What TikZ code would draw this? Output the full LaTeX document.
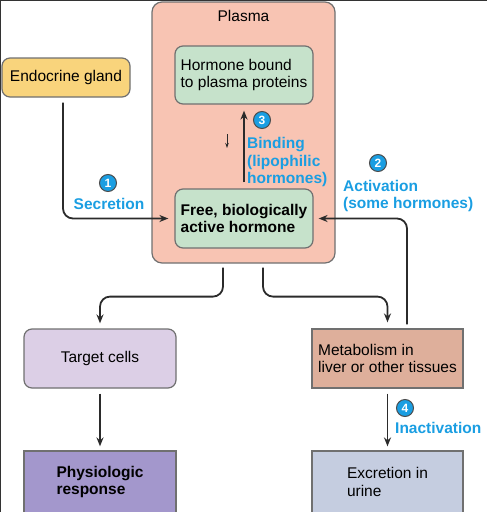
\documentclass[tikz,border=0pt]{standalone}
\usepackage{fontspec}
\setmainfont{Liberation Sans}
\usetikzlibrary{arrows.meta}

\definecolor{plasmacol}{HTML}{F8C4B3}
\definecolor{verde}{HTML}{C6E2CB}
\definecolor{amarillo}{HTML}{F9D47C}
\definecolor{lila}{HTML}{DCCFE6}
\definecolor{marron}{HTML}{DEAF9B}
\definecolor{morado}{HTML}{A397CC}
\definecolor{grisazul}{HTML}{C5CDE0}
\definecolor{azul}{HTML}{1A9EE2}
\definecolor{borde}{HTML}{707070}
\definecolor{linea}{HTML}{2B2B2B}

\begin{document}
\begin{tikzpicture}[x=1pt, y=-1pt,
    texto/.style={font=\fontsize{15.5}{17.5}\selectfont},
    caja/.style={texto, draw=borde, line width=1.2pt, inner sep=0pt, align=left},
    redonda/.style={caja, rounded corners=8pt},
    flecha/.style={draw=linea, line width=1.8pt, -{Stealth[length=9pt, width=7pt]}},
    paso/.style={circle, draw=black!70, fill=azul, text=white, line width=1pt, inner sep=0pt,
      minimum size=17pt, font=\fontsize{12}{12}\selectfont\bfseries},
    etiqueta/.style={text=azul, align=left, inner sep=0pt, font=\fontsize{15.5}{17.5}\selectfont\bfseries}]

    \useasboundingbox (0,0) rectangle (487,512);

    % Marco
    \draw[line width=1.5pt, black!80] (0.5,512) -- (0.5,0.5) -- (487,0.5);

    % Plasma
    \node[redonda, fill=plasmacol, minimum width=183pt, minimum height=261pt, rounded corners=10pt] (plasma) at (243.5,132.5) {};
    \node[texto, inner sep=0pt] (plasmatit) at (243.5,16) {Plasma};

    % Cajas
    \node[redonda, fill=verde, minimum width=138pt, minimum height=58pt] (ligada) at (244,75) {Hormone bound\\to plasma proteins};
    \node[redonda, fill=verde, minimum width=138pt, minimum height=59pt, font=\fontsize{15.5}{17.5}\selectfont\bfseries] (libre) at (244,218.5) {Free, biologically\\active hormone};
    \node[redonda, fill=amarillo, minimum width=128pt, minimum height=39pt] (glandula) at (66,77.5) {Endocrine gland};
    \node[redonda, fill=lila, minimum width=152pt, minimum height=59pt] (diana) at (100,358.5) {Target cells};
    \node[caja, fill=marron, minimum width=151pt, minimum height=59pt] (metab) at (387.5,358.5) {Metabolism in\\liver or other tissues};
    \node[caja, fill=morado, minimum width=152pt, minimum height=62pt, font=\fontsize{15.5}{17.5}\selectfont\bfseries] (respuesta) at (100,482) {Physiologic\\response};
    \node[caja, fill=grisazul, minimum width=151pt, minimum height=62pt] (excrecion) at (387.5,482) {Excretion in\\urine};

    % Pasos
    \node[paso] (p1) at (108,183) {1};
    \node[etiqueta] (secrecion) at (109,204) {Secretion};
    \node[paso] (p2) at (378,163) {2};
    \node[etiqueta, anchor=west] (activacion) at (343,196) {Activation\\(some hormones)};
    \node[paso] (p3) at (262,120) {3};
    \node[etiqueta, anchor=west] (union) at (247,162) {Binding\\(lipophilic\\hormones)};
    \node[paso] (p4) at (405,408) {4};
    \node[etiqueta, anchor=west] (inactivacion) at (395,428) {Inactivation};

    % Flechas
    \draw[flecha, rounded corners=10pt, shorten <=5pt, shorten >=6pt] ([xshift=-3pt]glandula.south) |- (libre.west);
    \draw[flecha, shorten <=6pt, shorten >=6pt] (libre.north) -- (ligada.south);
    \coordinate (flechita-a) at (227,134);
    \coordinate (flechita-b) at (227,148);
    \draw[draw=linea, line width=1pt, -{Stealth[length=5pt, width=3.5pt]}] (flechita-a) -- (flechita-b);
    \draw[flecha, rounded corners=10pt, shorten <=4pt, shorten >=5pt] ([xshift=19.5pt]metab.north) |- (libre.east);

    % Salidas del plasma
    \draw[flecha, rounded corners=10pt, shorten <=4pt, shorten >=5pt] ([xshift=-20.5pt]plasma.south) -- ++(0,33) -| (diana.north);
    \draw[flecha, rounded corners=10pt, shorten <=4pt, shorten >=6pt] ([xshift=19.5pt]plasma.south) -- ++(0,33) -| (metab.north);
    \draw[flecha, shorten <=5pt, shorten >=4pt] (diana.south) -- (respuesta.north);
    \draw[flecha, shorten <=5pt, shorten >=4pt] (metab.south) -- (excrecion.north);

  \end{tikzpicture}
\end{document}
